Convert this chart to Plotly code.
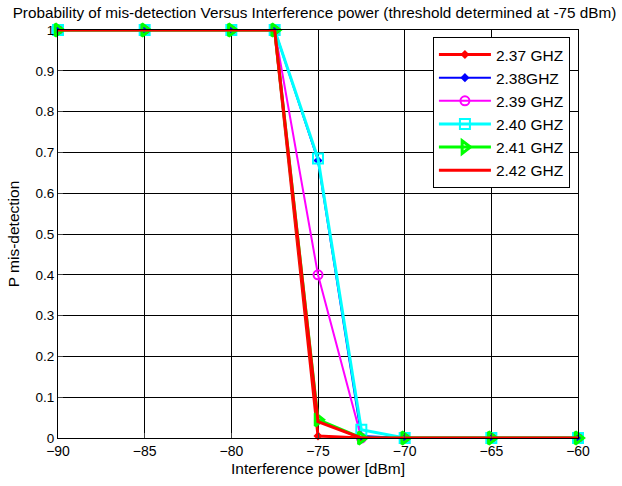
import plotly.graph_objects as go

x_dbm = [-90, -85, -80, -77.5, -75, -72.5, -70, -65, -60]
p_237 = [1, 1, 1, 1, 0.005, 0, 0, 0, 0]
p_238 = [1, 1, 1, 1, 0.68, 0.005, 0, 0, 0]
p_239 = [1, 1, 1, 1, 0.40, 0, 0, 0, 0]
p_240 = [1, 1, 1, 1, 0.685, 0.02, 0, 0, 0]
p_241 = [1, 1, 1, 1, 0.045, 0, 0, 0, 0]
p_242 = [1, 1, 1, 1, 0.04, 0, 0, 0, 0]

names = ["2.37 GHZ", "2.38GHZ", "2.39 GHZ", "2.40 GHZ", "2.41 GHZ", "2.42 GHZ"]
x_ticks = [-90, -85, -80, -75, -70, -65, -60]
y_ticks = [0, 0.1, 0.2, 0.3, 0.4, 0.5, 0.6, 0.7, 0.8, 0.9, 1]
y_ticktext = ["0", "0.1", "0.2", "0.3", "0.4", "0.5", "0.6", "0.7", "0.8", "0.9", "1"]

series = [
    (p_237, "#ff0000", 3, dict(symbol="diamond", size=7, color="#ff0000")),
    (p_238, "#0000ff", 2, dict(symbol="diamond", size=7, color="#0000ff")),
    (p_239, "#ff00ff", 2, dict(symbol="circle-open", size=9, color="#ff00ff", line=dict(width=2, color="#ff00ff"))),
    (p_240, "#00ffff", 3, dict(symbol="square-open", size=10, color="#00ffff", line=dict(width=2, color="#00ffff"))),
    (p_241, "#00ff00", 3, dict(symbol="triangle-right-open", size=11, color="#00ff00", line=dict(width=3, color="#00ff00"))),
    (p_242, "#ff0000", 3, None),
]

fig = go.Figure()
for (vals, col, w, mk), nm in zip(series, names):
    if mk is None:
        fig.add_trace(go.Scatter(x=x_dbm, y=vals, name=nm, mode="lines", cliponaxis=False,
                                 line=dict(color=col, width=w)))
    else:
        fig.add_trace(go.Scatter(x=x_dbm, y=vals, name=nm, mode="lines+markers", cliponaxis=False,
                                 line=dict(color=col, width=w), marker=mk))

fig.update_layout(
    width=622, height=486,
    margin=dict(l=58, r=44, t=30, b=48),
    paper_bgcolor="white", plot_bgcolor="white",
    font=dict(family="Liberation Sans, Arial, sans-serif", size=13, color="black"),
    title=dict(text="Probability of mis-detection Versus Interference power (threshold determined at -75 dBm)",
               x=0.5056, xanchor="center", y=0.974, yanchor="middle", font=dict(size=15.3)),
    showlegend=True,
    legend=dict(x=0.721, y=0.983, xanchor="left", yanchor="top",
                bgcolor="white", bordercolor="black", borderwidth=1,
                font=dict(size=15.5), tracegroupgap=0, itemwidth=52),
    xaxis=dict(range=[-90, -60], tickvals=x_ticks, showgrid=True, gridcolor="black", gridwidth=1,
               showline=True, linecolor="black", mirror=True, ticks="inside", ticklen=5,
               zeroline=False, automargin=False, tickfont=dict(size=14),
               title=dict(text="Interference power [dBm]", standoff=5, font=dict(size=15.5))),
    yaxis=dict(range=[0, 1], tickvals=y_ticks, ticktext=y_ticktext, showgrid=True, gridcolor="black",
               gridwidth=1, showline=True, linecolor="black", mirror=True, ticks="inside", ticklen=5,
               zeroline=False, automargin=False, tickfont=dict(size=13.5),
               title=dict(text="P mis-detection", standoff=12, font=dict(size=15.5))),
)

fig.write_html("out.html", config={"displayModeBar": False},
               post_script="document.body.style.margin='0';")
